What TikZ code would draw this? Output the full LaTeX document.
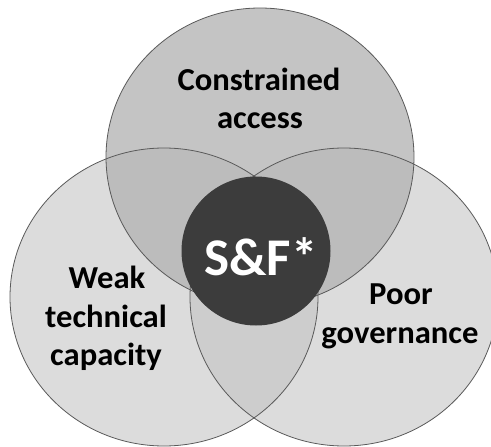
\documentclass[tikz,border=0pt]{standalone}
\usepackage{fontspec}
\setmainfont{Carlito}
\definecolor{sidefill}{HTML}{DCDCDC}
\definecolor{topfill}{HTML}{C4C4C4}
\definecolor{lrfill}{HTML}{CDCDCD}
\definecolor{tsfill}{HTML}{BCBCBC}
\definecolor{edgecol}{HTML}{5A5A5A}
\definecolor{corecol}{HTML}{3C3C3C}
\begin{document}
\begin{tikzpicture}[x=1pt,y=-1pt,
  edge/.style={draw=edgecol,line width=0.8pt},
  lbl/.style={font=\bfseries\fontsize{32}{38}\selectfont,align=center,text=black,inner sep=0pt},
  corelbl/.style={font=\bfseries\fontsize{53}{60}\selectfont,text=white,inner sep=0pt}]
\useasboundingbox (0,0) rectangle (491,447);
\clip (0,0) rectangle (491,447);
\def\ellL{(164,297) ellipse [x radius=154pt, y radius=149pt]}
\def\ellR{(344,297) ellipse [x radius=154pt, y radius=149pt]}
\def\ellT{(260,157) ellipse [x radius=154pt, y radius=149pt]}
% base fills
\fill[sidefill] \ellL;
\fill[sidefill] \ellR;
\fill[topfill] \ellT;
\begin{scope}
  \clip \ellL;
  \fill[lrfill] \ellR;
\end{scope}
\begin{scope}
  \clip \ellT;
  \fill[tsfill] \ellL;
  \fill[tsfill] \ellR;
\end{scope}
% outlines
\draw[edge] \ellL;
\draw[edge] \ellR;
\draw[edge] \ellT;
% core
\fill[corecol] (256,251) circle [radius=74.5pt];
% labels
\node[lbl, anchor=base, xscale=1.02] (ca1) at (259,90) {Constrained};
\node[lbl, anchor=base, xscale=1.02] (ca2) at (260,128) {access};
\node[lbl, anchor=base, xscale=1.02] (wt1) at (107,288) {Weak};
\node[lbl, anchor=base, xscale=1.02] (wt2) at (106,327) {technical};
\node[lbl, anchor=base, xscale=1.02] (wt3) at (106,365) {capacity};
\node[lbl, anchor=base, xscale=1.02] (pg1) at (401,304) {Poor};
\node[lbl, anchor=base, xscale=1.02] (pg2) at (400,343) {governance};
\node[corelbl, anchor=base] (sf) at (261,275) {S\&F*};
\end{tikzpicture}
\end{document}
